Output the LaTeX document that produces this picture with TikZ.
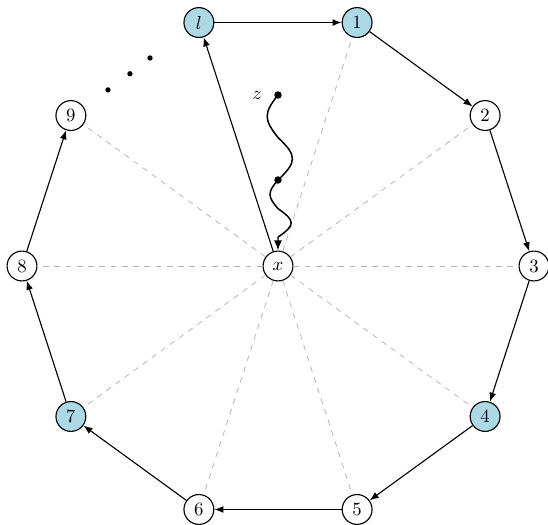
\documentclass[tikz,border=0pt]{standalone}
\usepackage{xcolor}
\usetikzlibrary{arrows.meta, calc, positioning}
\definecolor{nodeblue}{RGB}{173,216,230}

\begin{document}
\begin{tikzpicture}[
    vtx/.style={draw, semithick, circle, minimum size=5.6mm, inner sep=0pt, fill=white},
    hit/.style={vtx, fill=nodeblue},
    spoke/.style={dashed, gray!60},
    flow/.style={-{Latex[length=1.7mm, width=1.3mm]}, semithick},
    wave/.style={thick, -{Latex[length=1.9mm, width=1.5mm]}},
    pt/.style={circle, fill=black, inner sep=0pt, minimum size=1.4mm},
]
\useasboundingbox (-5.2125,-4.856) rectangle (5.0625,4.9875);
\node[vtx] (x)  at (0,0) {$x$};
\node[hit] (n1) at (72:4.8)   {$1$};
\node[vtx] (n2) at (36:4.8)   {$2$};
\node[vtx] (n3) at (0:4.8)    {$3$};
\node[hit] (n4) at (-36:4.8)  {$4$};
\node[vtx] (n5) at (-72:4.8)  {$5$};
\node[vtx] (n6) at (-108:4.8) {$6$};
\node[hit] (n7) at (-144:4.8) {$7$};
\node[vtx] (n8) at (180:4.8)  {$8$};
\node[vtx] (n9) at (144:4.8)  {$9$};
\node[hit] (nl) at (108:4.8)  {$l$};
% the gap between 9 and l
\node[pt, minimum size=1mm] (d1) at (134:4.59) {};
\node[pt, minimum size=1mm] (d2) at (127.6:4.55) {};
\node[pt, minimum size=1mm] (d3) at (121.6:4.58) {};
% path from z into x
\coordinate (z)  at (0,3.206);
\coordinate (w1) at (0,2.409);
\coordinate (m)  at (0,1.6125);
\coordinate (w2) at (0,1.076);
\coordinate (w3) at (0,0.54);
\draw[spoke] (x) -- (n1);
\draw[spoke] (x) -- (n2);
\draw[spoke] (x) -- (n3);
\draw[spoke] (x) -- (n4);
\draw[spoke] (x) -- (n5);
\draw[spoke] (x) -- (n6);
\draw[spoke] (x) -- (n7);
\draw[spoke] (x) -- (n8);
\draw[spoke] (x) -- (n9);
\draw[flow] (nl) -- (n1);
\draw[flow] (n1) -- (n2);
\draw[flow] (n2) -- (n3);
\draw[flow] (n3) -- (n4);
\draw[flow] (n4) -- (n5);
\draw[flow] (n5) -- (n6);
\draw[flow] (n6) -- (n7);
\draw[flow] (n7) -- (n8);
\draw[flow] (n8) -- (n9);
\draw[flow] (x) -- (nl);
\draw[thick] (z) .. controls +(-0.27,-0.34) and +(-0.27,0.34) .. (w1)
                 .. controls +(0.36,-0.34) and +(0.36,0.34) .. (m);
\draw[wave] (m) .. controls +(-0.2,-0.23) and +(-0.2,0.23) .. (w2)
                .. controls +(0.33,-0.23) and +(0.33,0.23) .. (w3) -- (x);
\node[pt] (zd) at (z) {};
\node[pt] (md) at (m) {};
\node[left=1mm of zd] (zl) {$z$};
\end{tikzpicture}
\end{document}
